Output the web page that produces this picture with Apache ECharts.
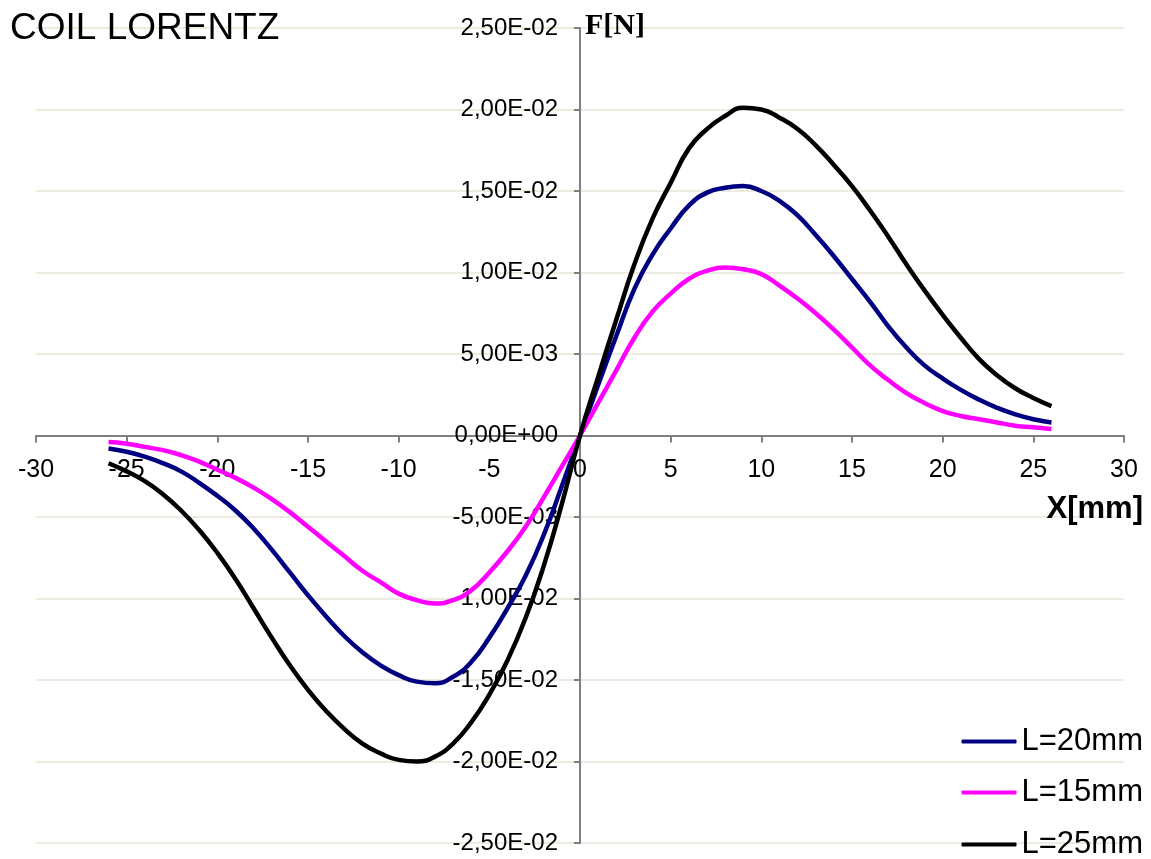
<!DOCTYPE html>
<html>
<head>
<meta charset="utf-8">
<script src="https://cdn.jsdelivr.net/npm/echarts@6/dist/echarts.min.js"></script>
<style>
html,body{margin:0;padding:0;background:#fff;}
#chart{width:1151px;height:859px;}
</style>
</head>
<body>
<div id="chart"></div>
<script>
// ---- data ----
const xValues = [-26,-25,-24,-23,-22,-21,-20,-19,-18,-17,-16,-15,-14,-13,-12,-11,-10,-9,-8,-7,-6,-5,-4,-3,-2,-1,
  0,1,2,3,4,5,6,7,8,9,10,11,12,13,14,15,16,17,18,19,20,21,22,23,24,25,26];

const seriesNames = ['L=20mm', 'L=15mm', 'L=25mm'];

const fL20 = [-0.0008,-0.0010,-0.0013,-0.0017,-0.0022,-0.0029,-0.0037,-0.0046,-0.0057,-0.0070,-0.0084,-0.0098,-0.0111,-0.0123,-0.0133,-0.0141,-0.0147,-0.0151,-0.0152,-0.0148,-0.0139,-0.0124,-0.0106,-0.0086,-0.0061,-0.0031,
  0,
  0.0031,0.0061,0.0090,0.0111,0.0127,0.0141,0.0149,0.0152,0.0153,0.0150,0.0144,0.0135,0.0123,0.0110,0.0096,0.0082,0.0067,0.0054,0.0043,0.0035,0.0028,0.0022,0.0017,0.0013,0.0010,0.0008];

const fL15 = [-0.0004,-0.0005,-0.0007,-0.0009,-0.0012,-0.0016,-0.0021,-0.0026,-0.0032,-0.0039,-0.0047,-0.0056,-0.0065,-0.0074,-0.0083,-0.0090,-0.0097,-0.0101,-0.0103,-0.0101,-0.0095,-0.0084,-0.0071,-0.0056,-0.0038,-0.0019,
  0,
  0.0020,0.0040,0.0060,0.0076,0.0087,0.0096,0.0101,0.0103,0.0102,0.0099,0.0092,0.0084,0.0075,0.0065,0.0054,0.0043,0.0034,0.0026,0.0020,0.0015,0.0012,0.0010,0.0008,0.0006,0.0005,0.0004];

const fL25 = [-0.0017,-0.0022,-0.0028,-0.0036,-0.0046,-0.0058,-0.0072,-0.0088,-0.0106,-0.0124,-0.0141,-0.0156,-0.0169,-0.0180,-0.0189,-0.0195,-0.0199,-0.0200,-0.0197,-0.0189,-0.0176,-0.0159,-0.0138,-0.0112,-0.0080,-0.0042,
  0,
  0.0036,0.0071,0.0105,0.0133,0.0155,0.0176,0.0188,0.0196,0.0201,0.0200,0.0195,0.0188,0.0178,0.0166,0.0153,0.0138,0.0122,0.0105,0.0089,0.0074,0.0060,0.0047,0.0037,0.0029,0.0023,0.0018];

const xTicks = {min: -30, max: 30, interval: 5};
const yTicks = {min: -0.025, max: 0.025, interval: 0.005};

// ---- helpers ----
function pairs(xs, ys){ return xs.map((x,i)=>[x, ys[i]]); }
function sci(v){
  if (Math.abs(v) < 1e-12) return '0,00E+00';
  const s = v.toExponential(2);
  const parts = s.split('e');
  const en = parseInt(parts[1], 10);
  const es = (en < 0 ? '-' : '+') + String(Math.abs(en)).padStart(2, '0');
  return parts[0].replace('.', ',') + 'E' + es;
}

const FONT = '"Liberation Sans", Arial, sans-serif';
const colors = ['#000080', '#FF00FF', '#000000'];
const datasets = [fL20, fL15, fL25];

const W = 1151, H = 859;
const G = {left: 36, right: 27, top: 28, bottom: 16};
const gridW = W - G.left - G.right;
const gridH = H - G.top - G.bottom;
// axes cross at (0,0): centre of the symmetric ranges
const xOffset = -(gridH / 2);
const yOffset = -(gridW / 2);

// one legend block per entry, stacked
const legendTops = [726, 777, 829];
const legends = seriesNames.map((name, i) => ({
  orient: 'vertical',
  right: 8, top: legendTops[i],
  padding: 0,
  itemWidth: 55, itemHeight: 4,
  icon: 'roundRect',
  data: [name],
  textStyle: {fontFamily: FONT, fontSize: 31, lineHeight: 30, color: '#000'}
}));

const chart = echarts.init(document.getElementById('chart'), null, {renderer: 'canvas'});
chart.setOption({
  animation: false,
  backgroundColor: '#ffffff',
  title: {
    text: 'COIL LORENTZ',
    left: 5, top: 5,
    textStyle: {fontFamily: FONT, fontSize: 37, fontWeight: 'normal', color: '#000'}
  },
  grid: {left: G.left, right: G.right, top: G.top, bottom: G.bottom, containLabel: false, outerBoundsMode: 'none'},
  legend: legends,
  xAxis: {
    type: 'value',
    position: 'bottom',
    offset: xOffset,
    min: xTicks.min, max: xTicks.max, interval: xTicks.interval,
    axisLine: {onZero: false, lineStyle: {color: '#808080', width: 2}},
    axisTick: {show: true, inside: false, length: 7, lineStyle: {color: '#808080', width: 2}},
    axisLabel: {fontFamily: FONT, fontSize: 25, color: '#000', margin: 22},
    splitLine: {show: false}
  },
  yAxis: {
    type: 'value',
    position: 'left',
    offset: yOffset,
    min: yTicks.min, max: yTicks.max, interval: yTicks.interval,
    axisLine: {onZero: false, lineStyle: {color: '#808080', width: 2}},
    axisTick: {show: true, inside: false, length: 6, lineStyle: {color: '#808080', width: 2}},
    axisLabel: {fontFamily: FONT, fontSize: 24, color: '#000', margin: 22, formatter: sci},
    splitLine: {show: true, lineStyle: {color: '#EEEBE0', width: 2}}
  },
  graphic: [
    {type: 'text', z: 100, left: 585, top: 11, style: {text: 'F[N]', font: 'bold 30px "Liberation Serif", "Times New Roman", serif', fill: '#000'}},
    {type: 'text', z: 100, right: 8, top: 494, style: {text: 'X[mm]', font: 'bold 31px ' + FONT, fill: '#000'}}
  ],
  series: seriesNames.map((name, i) => ({
    name: name,
    type: 'line',
    data: pairs(xValues, datasets[i]),
    smooth: 0.5,
    symbol: 'none',
    lineStyle: {color: colors[i], width: 4.5},
    itemStyle: {color: colors[i]},
    z: 3 + i
  }))
});
</script>
</body>
</html>
